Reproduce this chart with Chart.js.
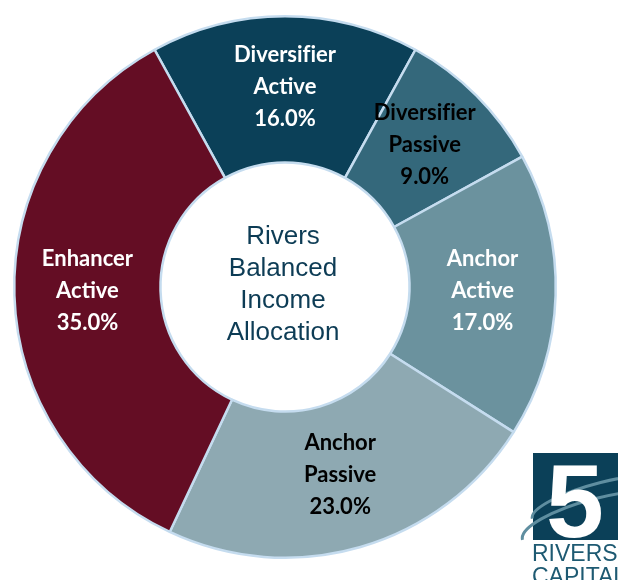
<!DOCTYPE html>
<html>
<head>
<meta charset="utf-8">
<script src="https://cdn.jsdelivr.net/npm/chart.js@4"></script>
<style>
  html, body { margin: 0; padding: 0; background: #ffffff; }
  #wrap { width: 618px; height: 580px; position: relative; }
</style>
</head>
<body>
<div id="wrap"><canvas id="allocChart"></canvas></div>
<script>
const categories = ["Diversifier Active", "Diversifier Passive", "Anchor Active", "Anchor Passive", "Enhancer Active"];
const weights = [16.0, 9.0, 17.0, 23.0, 35.0];
const sliceColors = ["#0b4058", "#34687b", "#6b929e", "#8ea9b2", "#640d24"];
const labelColors = ["#ffffff", "#000000", "#ffffff", "#000000", "#ffffff"];
const centerTitle = ["Rivers", "Balanced", "Income", "Allocation"];

// slice labels drawn at the middle of each arc
const sliceLabels = {
    id: "sliceLabels",
    afterDatasetsDraw(chart) {
        const ctx = chart.ctx;
        const meta = chart.getDatasetMeta(0);
        ctx.save();
        ctx.font = "bold 22px Lato";
        ctx.textAlign = "center";
        ctx.textBaseline = "middle";
        meta.data.forEach((arc, i) => {
            const p = arc.tooltipPosition();
            // zero-width non-joiner keeps "fi" from turning into a ligature
            const words = categories[i].replace("fi", "f\u200Ci").split(" ");
            const lines = words.concat([weights[i].toFixed(1) + "%"]);
            ctx.fillStyle = labelColors[i];
            lines.forEach((t, k) => {
                ctx.fillText(t, p.x, p.y - 2 + (k - 1) * 32);
            });
        });
        ctx.restore();
    }
};

const centerText = {
    id: "centerText",
    afterDraw(chart) {
        const ctx = chart.ctx;
        const arc = chart.getDatasetMeta(0).data[0];
        ctx.save();
        ctx.font = "26px 'Liberation Sans'";
        ctx.fillStyle = "#0d3c55";
        ctx.textAlign = "center";
        ctx.textBaseline = "middle";
        centerTitle.forEach((t, k) => {
            ctx.fillText(t, arc.x - 2, arc.y - 50 + k * 32);
        });

        // company mark, bottom right
        ctx.fillStyle = "#0b4058";
        ctx.fillRect(533, 453, 90, 87);
        ctx.strokeStyle = "#5f8ea0";
        ctx.lineWidth = 3;
        ctx.beginPath();
        ctx.ellipse(600, 520, 80, 22, -0.25, Math.PI, 1.7 * Math.PI);
        ctx.stroke();
        ctx.beginPath();
        ctx.ellipse(605, 500, 75, 18, -0.25, Math.PI, 1.7 * Math.PI);
        ctx.stroke();
        ctx.fillStyle = "#ffffff";
        ctx.font = "bold 104px 'Liberation Sans'";
        ctx.textAlign = "left";
        ctx.textBaseline = "alphabetic";
        ctx.fillText("5", 546, 537);
        ctx.fillStyle = "#1e5a72";
        ctx.font = "23px 'Liberation Sans'";
        ctx.fillText("RIVERS", 532, 561);
        ctx.fillText("CAPITAL", 532, 584);
        ctx.restore();
    }
};

new Chart(document.getElementById("allocChart"), {
    type: "doughnut",
    data: {
        labels: categories,
        datasets: [{
            data: weights,
            backgroundColor: sliceColors,
            borderColor: "#c5dcef",
            borderWidth: 2.5
        }]
    },
    options: {
        responsive: true,
        maintainAspectRatio: false,
        animation: false,
        rotation: -28.8,
        cutout: "46%",
        layout: { padding: { left: 13, right: 61, top: 15, bottom: 21 } },
        plugins: {
            legend: { display: false },
            tooltip: { enabled: false }
        }
    },
    plugins: [sliceLabels, centerText]
});
</script>
</body>
</html>
